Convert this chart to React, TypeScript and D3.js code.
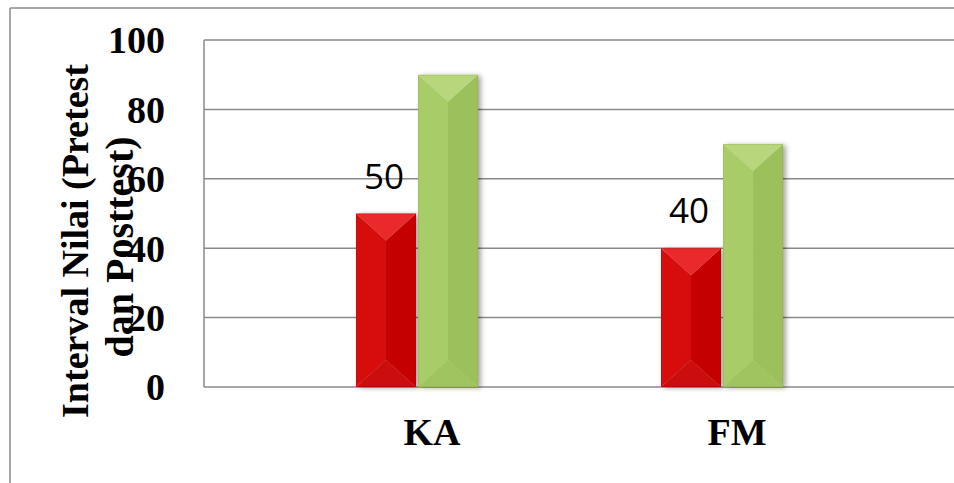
import React from "react";
import * as d3 from "d3";

const categories = ["KA", "FM"];
const seriesNames = ["Pretest", "Posttest"];
const pretest = [50, 40];
const posttest = [90, 70];
const yTicks = [0, 20, 40, 60, 80, 100];
const preLabels = ["50", "40"];

const W = 954;
const H = 483;

const palettes: Record<string, { top: string; left: string; right: string; bottom: string; edge: string }> = {
  Pretest: { top: "#ea2a2a", left: "#d70b0b", right: "#c40404", bottom: "#cb0808", edge: "#a80000" },
  Posttest: { top: "#b8d67c", left: "#a8cc67", right: "#9cc15b", bottom: "#a0c45e", edge: "#86a84a" },
};

export default function App() {
  const y = d3.scaleLinear().domain([0, 100]).range([387, 40]);
  const x = d3.scaleBand().domain(categories).range([279.5, 889.5]).padding(0);
  const inner = d3.scaleBand().domain(seriesNames).range([-76, 46]).paddingInner(0.033);
  const plotLeft = 204;
  const plotRight = W + 5;

  const bars: { key: string; s: string; x0: number; x1: number; y0: number; y1: number }[] = [];
  categories.forEach((c, i) => {
    const cx = (x(c) as number) + x.bandwidth() / 2;
    [pretest[i], posttest[i]].forEach((v, j) => {
      const s = seriesNames[j];
      const x0 = cx + (inner(s) as number);
      bars.push({ key: c + s, s, x0, x1: x0 + inner.bandwidth(), y0: y(v), y1: y(0) });
    });
  });

  const bevel = (b: typeof bars[0]) => {
    const p = palettes[b.s];
    const cx = (b.x0 + b.x1) / 2;
    const d = Math.min((b.x1 - b.x0) / 2 - 3, (b.y1 - b.y0) / 2);
    const tc = [cx, b.y0 + d];
    const bc = [cx, b.y1 - d];
    const pts = (arr: number[][]) => arr.map((q) => q.join(",")).join(" ");
    return (
      <g key={b.key} filter="url(#shadow)">
        <polygon points={pts([[b.x0, b.y0], tc, bc, [b.x0, b.y1]])} fill={p.left} />
        <polygon points={pts([[b.x1, b.y0], tc, bc, [b.x1, b.y1]])} fill={p.right} />
        <polygon points={pts([[b.x0, b.y0], [b.x1, b.y0], tc])} fill={p.top} />
        <polygon points={pts([[b.x0, b.y1], [b.x1, b.y1], bc])} fill={p.bottom} />
        <rect x={b.x0 + 0.5} y={b.y0 + 0.5} width={b.x1 - b.x0 - 1} height={b.y1 - b.y0 - 1} fill="none" stroke={p.edge} strokeOpacity={0.3} />
      </g>
    );
  };

  return (
    <svg width={W} height={H} style={{ position: "absolute", left: 0, top: 0, background: "#fff" }}>
      <defs>
        <filter id="shadow" x="-20%" y="-10%" width="150%" height="130%">
          <feDropShadow dx="3" dy="1" stdDeviation="2.5" floodColor="#000" floodOpacity="0.35" />
        </filter>
      </defs>
      <rect x={0} y={0} width={W} height={H} fill="#fff" />
      <line x1={10} y1={8} x2={W + 5} y2={8} stroke="#8a8a8a" strokeWidth={1.5} />
      <line x1={10} y1={8} x2={10} y2={H + 5} stroke="#8a8a8a" strokeWidth={1.5} />

      {yTicks.map((t) => (
        <line key={t} x1={plotLeft} x2={plotRight} y1={y(t)} y2={y(t)} stroke="#8a8a8a" strokeWidth={1.5} />
      ))}
      <line x1={plotLeft} x2={plotLeft} y1={y(100)} y2={y(0)} stroke="#8a8a8a" strokeWidth={1.5} />

      {yTicks.map((t) => (
        <text key={t} x={165} y={y(t)} dy="0.35em" textAnchor="end" fontFamily="Liberation Serif" fontWeight="bold" fontSize={38} fill="#000">
          {t}
        </text>
      ))}

      <g fontFamily="Liberation Serif" fontWeight="bold" fontSize={38} fill="#000">
        <text transform="translate(88,241) rotate(-90)" textAnchor="middle">Interval Nilai (Pretest</text>
        <text transform="translate(133,247) rotate(-90)" textAnchor="middle" fontSize={40}>dan Posttest)</text>
      </g>

      {bars.map(bevel)}

      {categories.map((c, i) => {
        const cx = (x(c) as number) + x.bandwidth() / 2 + (inner("Pretest") as number) + inner.bandwidth() / 2;
        return (
          <text key={c} x={cx - 2} y={y(pretest[i]) - 25} textAnchor="middle" fontFamily="Open Sans" fontSize={35} fill="#000">
            {preLabels[i]}
          </text>
        );
      })}

      {categories.map((c) => (
        <text key={c} x={(x(c) as number) + x.bandwidth() / 2} y={445} textAnchor="middle" fontFamily="Liberation Serif" fontWeight="bold" fontSize={38} fill="#000">
          {c}
        </text>
      ))}
    </svg>
  );
}
